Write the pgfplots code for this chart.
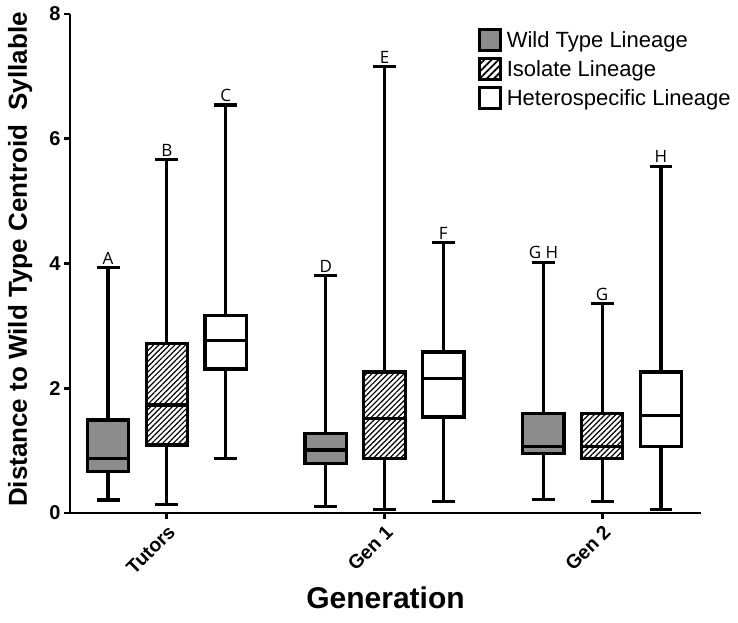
\documentclass[border=0pt]{standalone}
\usepackage{pgfplots}
\pgfplotsset{compat=1.18}
\usepgfplotslibrary{statistics}
\usetikzlibrary{patterns.meta}
\usepackage{fontspec}
\setmainfont{Liberation Sans}
\newfontfamily\letfont{Open Sans}
\definecolor{boxgray}{RGB}{140,140,140}
\tikzset{hatch/.style={pattern={Lines[angle=45,distance=3.8pt,line width=1.2pt]}, pattern color=black}}
\begin{document}
\begin{tikzpicture}
\begin{axis}[
  at={(0,0)}, anchor=south west,
  scale only axis, width=631pt, height=499pt,
  xmin=0.555, xmax=3.454, ymin=0, ymax=8,
  axis x line*=bottom, axis y line*=left,
  axis line style={line width=2.8pt},
  xtick={1,2,3}, xticklabels={Tutors,Gen 1,Gen 2},
  ytick={0,2,4,6,8},
  tick align=outside, major tick length=6pt,
  every tick/.style={black, line width=2.8pt},
  /pgf/number format/assume math mode=true,
  y tick label style={font=\bfseries\fontsize{20}{24}\selectfont},
  x tick label style={font=\bfseries\fontsize{19.5}{22}\selectfont, rotate=45, anchor=north east},
  xlabel={Generation}, ylabel={Distance to Wild Type Centroid\ \ Syllable},
  xlabel style={font=\bfseries\fontsize{30}{36}\selectfont, at={(axis description cs:0.5,-0.17)}, anchor=center},
  ylabel style={font=\bfseries\fontsize{26}{31}\selectfont, at={(axis description cs:-0.079,0.508)}, anchor=center},
  clip=false,
  boxplot/draw direction=y,
  boxplot/box extend=0.19, boxplot/whisker extend=0.105,
  legend image code/.code={\draw[#1, line width=3pt] (0pt,-10.5pt) rectangle (21pt,10.5pt);},
  legend style={at={(axis description cs:0.646,0.972)}, anchor=north west, draw=none, fill=none,
    inner sep=0pt, font=\fontsize{22}{26}\selectfont, row sep=5pt, cells={anchor=west},
    nodes={inner xsep=5pt, inner ysep=1pt}},
  legend cell align=left,
]
\addlegendimage{draw=black, fill=boxgray}
\addlegendimage{draw=black, pattern={Lines[angle=45,distance=5pt,line width=1.8pt]}}
\addlegendimage{draw=black, fill=white}
\legend{Wild Type Lineage, Isolate Lineage, Heterospecific Lineage}

% Tutors
\addplot[draw=black, line width=3.2pt, fill=boxgray, boxplot prepared={draw position=0.73, lower whisker=0.21, lower quartile=0.66, median=0.87, upper quartile=1.49, upper whisker=3.94}] coordinates {};
\addplot[draw=black, line width=3.2pt, hatch, boxplot prepared={draw position=1.00, lower whisker=0.13, lower quartile=1.09, median=1.73, upper quartile=2.72, upper whisker=5.67}] coordinates {};
\addplot[draw=black, line width=3.2pt, fill=white, boxplot prepared={draw position=1.27, lower whisker=0.87, lower quartile=2.31, median=2.76, upper quartile=3.16, upper whisker=6.54}] coordinates {};
% Gen 1
\addplot[draw=black, line width=3.2pt, fill=boxgray, boxplot prepared={draw position=1.73, lower whisker=0.11, lower quartile=0.80, median=1.01, upper quartile=1.28, upper whisker=3.81}] coordinates {};
\addplot[draw=black, line width=3.2pt, hatch, boxplot prepared={draw position=2.00, lower whisker=0.06, lower quartile=0.88, median=1.52, upper quartile=2.26, upper whisker=7.16}] coordinates {};
\addplot[draw=black, line width=3.2pt, fill=white, boxplot prepared={draw position=2.27, lower whisker=0.18, lower quartile=1.54, median=2.15, upper quartile=2.58, upper whisker=4.34}] coordinates {};
% Gen 2
\addplot[draw=black, line width=3.2pt, fill=boxgray, boxplot prepared={draw position=2.73, lower whisker=0.22, lower quartile=0.96, median=1.07, upper quartile=1.60, upper whisker=4.02}] coordinates {};
\addplot[draw=black, line width=3.2pt, hatch, boxplot prepared={draw position=3.00, lower whisker=0.19, lower quartile=0.87, median=1.07, upper quartile=1.60, upper whisker=3.36}] coordinates {};
\addplot[draw=black, line width=3.2pt, fill=white, boxplot prepared={draw position=3.27, lower whisker=0.06, lower quartile=1.06, median=1.56, upper quartile=2.26, upper whisker=5.56}] coordinates {};

\begin{scope}[every node/.style={font=\letfont\fontsize{17}{20}\selectfont, anchor=south, yshift=2pt, inner sep=1pt}]
\node at (axis cs:0.73,3.94) {A};
\node at (axis cs:1.00,5.67) {B};
\node at (axis cs:1.27,6.54) {C};
\node at (axis cs:1.73,3.81) {D};
\node at (axis cs:2.00,7.16) {E};
\node at (axis cs:2.27,4.34) {F};
\node at (axis cs:2.73,4.02) {G H};
\node at (axis cs:3.00,3.36) {G};
\node at (axis cs:3.27,5.56) {H};
\end{scope}
\end{axis}
\pgfresetboundingbox
\path[use as bounding box] (-70pt,-109pt) rectangle (668pt,513pt);
\end{tikzpicture}
\end{document}
